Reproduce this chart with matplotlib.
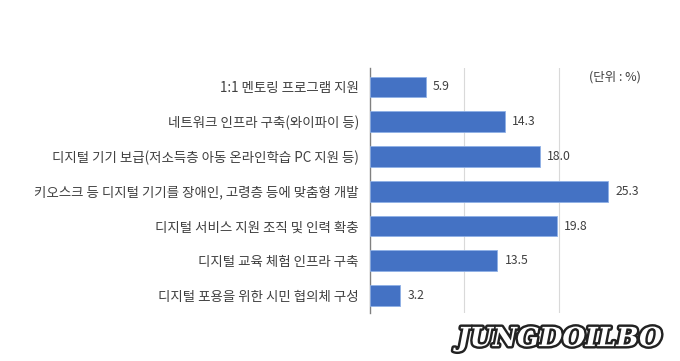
import matplotlib
matplotlib.use("Agg")
import matplotlib.pyplot as plt
import matplotlib.patheffects as pe

plt.rcParams['font.family'] = ['Noto Sans CJK KR', 'DejaVu Sans']

# survey items (top to bottom) and share in %
items = [
    "1:1 멘토링 프로그램 지원",
    "네트워크 인프라 구축(와이파이 등)",
    "디지털 기기 보급(저소득층 아동 온라인학습 PC 지원 등)",
    "키오스크 등 디지털 기기를 장애인, 고령층 등에 맞춤형 개발",
    "디지털 서비스 지원 조직 및 인력 확충",
    "디지털 교육 체험 인프라 구축",
    "디지털 포용을 위한 시민 협의체 구성",
]
values = [5.9, 14.3, 18.0, 25.3, 19.8, 13.5, 3.2]
grid_ticks = [10, 20]

bar_color = '#4472C4'
text_color = '#404040'

fig = plt.figure(figsize=(6.8, 3.61), dpi=100)
ax = fig.add_axes([0.544, 0.133, 0.416, 0.679])

pos = list(range(len(items)))
ax.barh(pos, values, height=0.6, color=bar_color, edgecolor='#8fb0e6', lw=0.6, zorder=3)

for y, v in zip(pos, values):
    ax.text(v + 0.8, y, f"{v:.1f}", va='center', ha='left',
            fontsize=8.8, color=text_color)

for g in grid_ticks:
    ax.axvline(g, color='#d9d9d9', lw=0.8, zorder=0)

ax.set_xlim(0, 30)
ax.set_ylim(6.5, -0.55)
ax.set_yticks(pos)
ax.set_yticklabels(items, fontsize=9.7, color=text_color)
ax.tick_params(axis='y', length=0, pad=8)
ax.set_xticks([])
for s in ['top', 'right', 'bottom']:
    ax.spines[s].set_visible(False)
ax.spines['left'].set_color('#808080')
ax.spines['left'].set_linewidth(1.0)

fig.text(0.904, 0.787, "(단위 : %)", ha='center', va='center',
         fontsize=9, color=text_color)

# watermark
fig.text(0.823, 0.062, "JUNGDOILBO", ha='center', va='center',
         fontsize=19, fontweight='bold', fontstyle='italic',
         family='DejaVu Serif', color='white',
         path_effects=[pe.withStroke(linewidth=3.5, foreground='#222222')])

fig.savefig('out.png', dpi=100)
